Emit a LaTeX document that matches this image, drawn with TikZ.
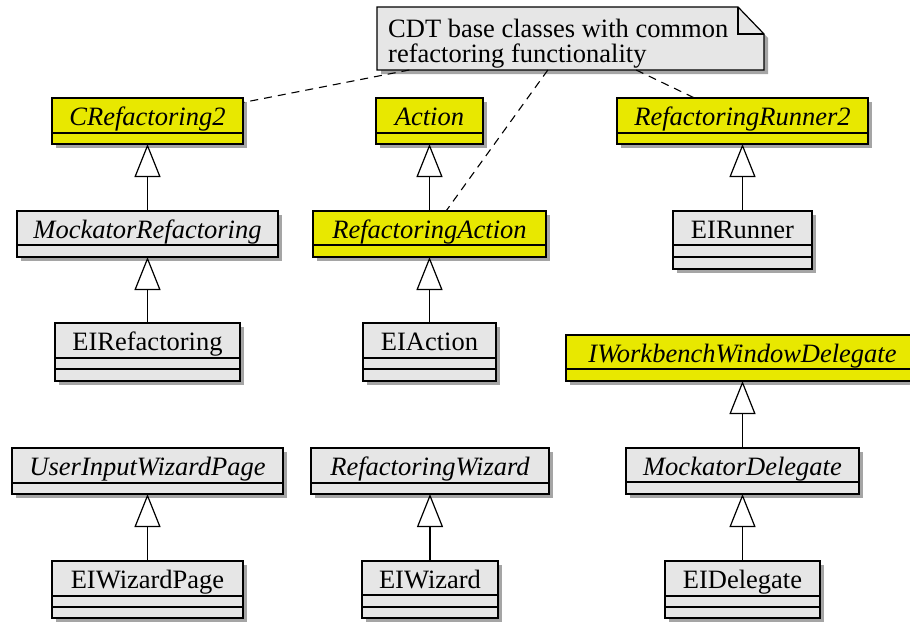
\documentclass[tikz,border=0pt]{standalone}
\usepackage{fontspec}
\setmainfont{Liberation Serif}
\usetikzlibrary{arrows.meta,shadows}
\definecolor{umlyellow}{RGB}{232,232,0}
\definecolor{umlgray}{RGB}{230,230,230}
\definecolor{umlshadow}{RGB}{165,165,165}
\tikzset{
  clsbox/.style={draw=black, line width=1.2pt, rectangle, inner sep=0pt, outer sep=0pt,
    drop shadow={shadow xshift=4pt, shadow yshift=-4pt, fill=umlshadow, opacity=1}},
  clsname/.style={anchor=base, inner sep=0pt, font=\fontsize{26.5}{30}\selectfont},
  notetext/.style={anchor=base west, inner sep=0pt, font=\fontsize{26.5}{30}\selectfont},
  clsline/.style={line width=1.2pt},
  gen/.style={line width=1.2pt, -{Triangle[length=33pt, width=26pt, fill=white]}},
  notelink/.style={line width=1.1pt, dash pattern=on 8pt off 6pt},
}
\newcommand\umlclass[8]{%
  \node[clsbox, fill=#6, minimum width={(#4)-(#2)}, minimum height={(#5)-(#3)}] (#1)
    at ({((#2)+(#4))/2},{((#3)+(#5))/2}) {};
  \node[clsname] at ([yshift=-27.5pt]#1.north) {#7};
  \foreach \d in {#8} {\draw[clsline] ([yshift=-\d pt]#1.north west) -- ([yshift=-\d pt]#1.north east);}
}
\begin{document}
\begin{tikzpicture}[x=1pt, y=-1pt]
\useasboundingbox (0,0) rectangle (910,621);
\clip (0,0) rectangle (910,621);

% note
\node[draw=none, minimum width=387pt, minimum height=63pt, inner sep=0pt, outer sep=0pt] (note) at (570.5,38.5) {};
\path[fill=umlgray, draw=black, line width=1.2pt,
  drop shadow={shadow xshift=4pt, shadow yshift=-4pt, fill=umlshadow, opacity=1}]
  (note.north west) -- ([xshift=-26pt]note.north east) -- ([yshift=-27pt]note.north east)
  -- (note.south east) -- (note.south west) -- cycle;
\draw[line width=1.2pt] ([xshift=-26pt]note.north east) -- ([xshift=-26pt,yshift=-27pt]note.north east)
  -- ([yshift=-27pt]note.north east);
\node[notetext] (notel1) at (388,37) {CDT base classes with common};
\node[notetext] (notel2) at (388,62) {refactoring functionality};

% classes
\umlclass{crf}{52}{98}{243}{144}{umlyellow}{\itshape CRefactoring2}{35}
\umlclass{mrf}{17}{211}{278}{257}{umlgray}{\itshape MockatorRefactoring}{34}
\umlclass{eirf}{55}{323}{240}{381}{umlgray}{EIRefactoring}{35,46}
\umlclass{act}{376}{98}{483}{144}{umlyellow}{\itshape Action}{35}
\umlclass{ract}{313}{211}{546}{257}{umlyellow}{\itshape RefactoringAction}{34}
\umlclass{eiact}{363}{323}{496}{381}{umlgray}{EIAction}{35,46}
\umlclass{rr2}{617}{98}{868}{144}{umlyellow}{\itshape RefactoringRunner2}{35}
\umlclass{eirun}{673}{211}{812}{269}{umlgray}{EIRunner}{34,46}
\umlclass{iwwd}{566}{335}{919}{381}{umlyellow}{\itshape IWorkbenchWindowDelegate}{34}
\umlclass{mdel}{626}{448}{859}{494}{umlgray}{\itshape MockatorDelegate}{34}
\umlclass{eidel}{665}{561}{820}{618}{umlgray}{EIDelegate}{35,46}
\umlclass{uiwp}{12}{448}{283}{494}{umlgray}{\itshape UserInputWizardPage}{35}
\umlclass{eiwp}{52}{561}{243}{618}{umlgray}{EIWizardPage}{35,46}
\umlclass{rwiz}{311}{448}{549}{494}{umlgray}{\itshape RefactoringWizard}{35}
\umlclass{eiwiz}{362}{561}{498}{618}{umlgray}{EIWizard}{34,46}

% generalizations
\draw[gen] (mrf.north) -- (crf.south);
\draw[gen] (eirf.north) -- (mrf.south);
\draw[gen] (ract.north) -- (act.south);
\draw[gen] (eiact.north) -- (ract.south);
\draw[gen] (eirun.north) -- (rr2.south);
\draw[gen] (mdel.north) -- (iwwd.south);
\draw[gen] (eidel.north) -- (mdel.south);
\draw[gen] (eiwp.north) -- (uiwp.south);
\draw[gen] (eiwiz.north) -- (rwiz.south);

% note links
\draw[notelink] (note) -- (crf);
\draw[notelink] (note) -- (ract);
\draw[notelink] (note) -- (rr2);
\end{tikzpicture}
\end{document}
